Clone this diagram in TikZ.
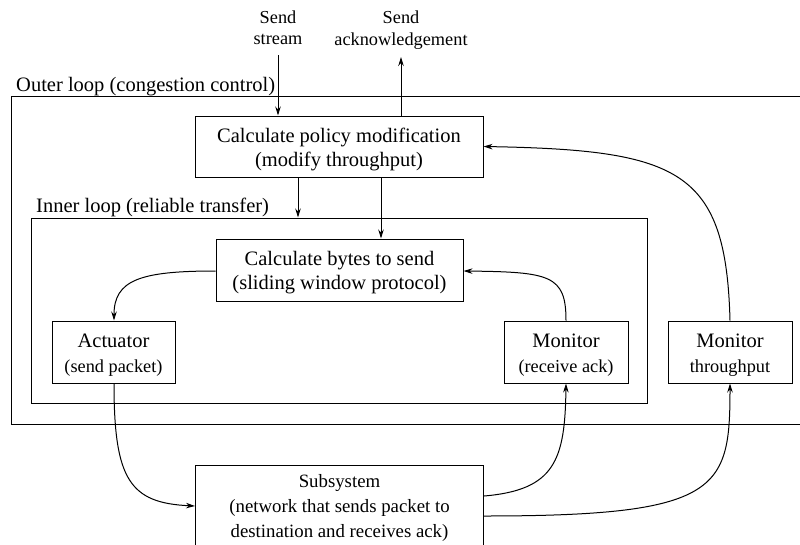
\documentclass[tikz,border=0pt]{standalone}
\usepackage{fontspec}
\setmainfont{Liberation Serif}
\usetikzlibrary{arrows.meta,calc}
\begin{document}
\begin{tikzpicture}[x=1pt,y=-1pt,
  big/.style={font=\fontsize{20.5}{24.5}\selectfont},
  box/.style={draw,line width=1pt,inner sep=0pt},
  txt/.style={inner sep=0pt,align=center},
  conn/.style={line width=1pt,-{Stealth[length=9pt,width=5.5pt]}},
  frame/.style={draw,line width=1pt}]
\useasboundingbox (0,0) rectangle (800,544);
\clip (0,0) rectangle (800,544);
% outer loop
\draw[frame] (801,96) -| (11,424) -- (801,424);
\node[big,anchor=base west,inner sep=0pt] (outerlbl) at (16,91) {Outer loop (congestion control)};
% inner loop
\node[frame,minimum width=616pt,minimum height=185pt,inner sep=0pt] (inner) at (339,310.5) {};
\node[big,anchor=base west,inner sep=0pt] (innerlbl) at (36,212) {Inner loop (reliable transfer)};
% boxes
\node[box,minimum width=288pt,minimum height=61pt] (policy) at (339,146.5) {};
\node[txt,font=\fontsize{20.5}{24}\selectfont] (policytxt) at ([yshift=-2.75pt]policy.center)
  {Calculate policy modification\\(modify throughput)};
\node[box,minimum width=247pt,minimum height=62pt] (bytes) at (339.5,270) {};
\node[txt,font=\fontsize{20.5}{24}\selectfont] (bytestxt) at ([yshift=-2.5pt]bytes.center)
  {Calculate bytes to send\\(sliding window protocol)};
\node[box,minimum width=123pt,minimum height=62pt] (act) at (113.5,352) {};
\node[txt,font=\fontsize{20.5}{25}\selectfont] (acttxt) at ([yshift=-3pt]act.center)
  {Actuator\\\fontsize{18.3}{25}\selectfont (send packet)};
\node[box,minimum width=124pt,minimum height=62pt] (mon) at (566,352) {};
\node[txt,font=\fontsize{20.5}{25}\selectfont] (montxt) at ([yshift=-3pt]mon.center)
  {Monitor\\\fontsize{18.3}{25}\selectfont (receive ack)};
\node[box,minimum width=124pt,minimum height=62pt] (mont) at (730,352) {};
\node[txt,font=\fontsize{20.5}{25}\selectfont] (monttxt) at ([yshift=-3pt]mont.center)
  {Monitor\\\fontsize{18.3}{25}\selectfont throughput};
\node[box,minimum width=288pt,minimum height=100pt] (sub) at (339.5,515) {};
\node[txt,font=\fontsize{18.8}{25}\selectfont] (subtxt) at (339.5,507.75)
  {Subsystem\\(network that sends packet to\\destination and receives ack)};
% external labels
\node[txt,anchor=south,font=\fontsize{18.3}{21.5}\selectfont] (ss) at (278,45)
  {Send\\stream};
\node[txt,anchor=south,font=\fontsize{18.3}{21.5}\selectfont] (sa) at (401,49.5)
  {Send\\acknowledgement};
% connectors
\draw[conn] ([yshift=-10pt]ss.south) -- (ss.south |- policy.north);
\draw[conn] (sa.south |- policy.north) -- ([yshift=-7.5pt]sa.south);
\draw[conn] ([xshift=-41pt]policy.south) -- ([xshift=-41pt]policy.south |- inner.north);
\draw[conn] ([xshift=42pt]policy.south) -- ([xshift=42pt]policy.south |- bytes.north);
\draw[conn] ([yshift=-1pt]bytes.west) .. controls (140,271) and (114,280) .. ([xshift=0.5pt]act.north);
\draw[conn] (mon.north) .. controls (566,275) and (550,272) .. ([yshift=-1pt]bytes.east);
\draw[conn] (mont.north) .. controls (726,170) and (680,150) .. (policy.east);
\draw[conn] ([xshift=0.5pt]act.south) .. controls (114,480) and (130,503) .. (sub.west |- 0,506);
\draw[conn] (sub.east |- 0,496) .. controls (555,490) and (565,460) .. (mon.south);
\draw[conn] (sub.east |- 0,516) .. controls (720,516) and (730,490) .. (mont.south);
\end{tikzpicture}
\end{document}
